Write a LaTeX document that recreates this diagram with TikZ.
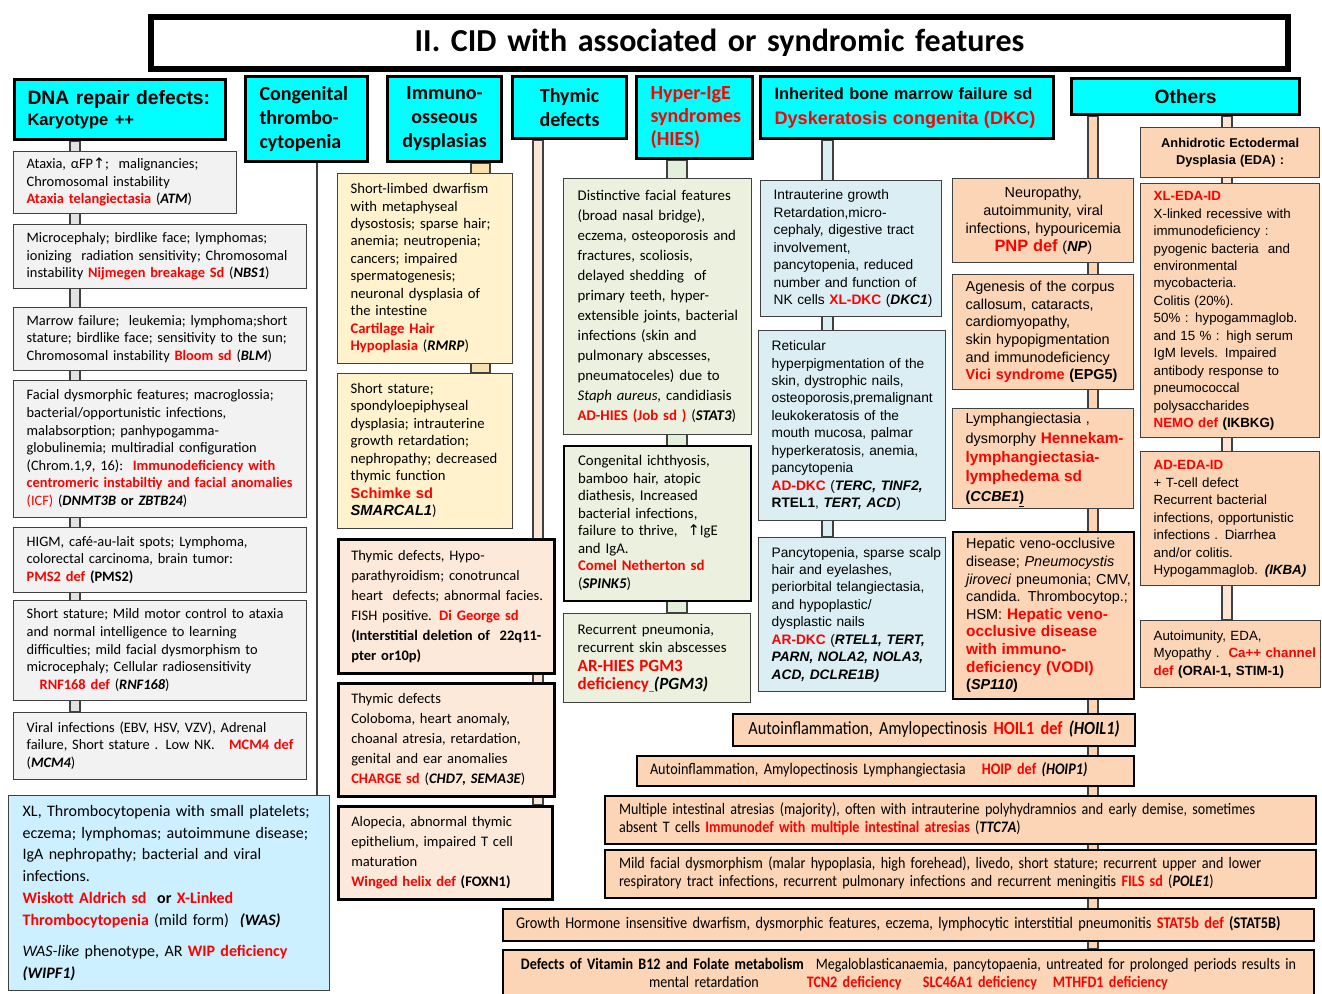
\documentclass[tikz,border=0pt]{standalone}
\usepackage{fontspec}
\setmainfont{Carlito}
\newfontfamily\arialf{Liberation Sans}
\newfontfamily\narrowf[FakeStretch=0.88]{Carlito}
\newfontfamily\symf{DejaVu Sans}
\usetikzlibrary{calc}
\pgfdeclarelayer{background}
\pgfsetlayers{background,main}

\definecolor{hdrcyan}{HTML}{00FFFF}
\definecolor{edgegray}{HTML}{404040}
\definecolor{dnafill}{HTML}{F2F2F2}
\definecolor{dnabarfill}{HTML}{E2E2E2}
\definecolor{wasfill}{HTML}{CCF0FF}
\definecolor{iofill}{HTML}{FFF2CC}
\definecolor{iobarfill}{HTML}{F8E0B0}
\definecolor{thyfill}{HTML}{FDE9D9}
\definecolor{thybarfill}{HTML}{FCE4D6}
\definecolor{hiesfill}{HTML}{EBF1DE}
\definecolor{hiesbarfill}{HTML}{E2EFDA}
\definecolor{dkcfill}{HTML}{DAEEF3}
\definecolor{peach}{HTML}{FBD5B5}
\definecolor{redtxt}{HTML}{FF0000}
\definecolor{ulcolor}{HTML}{C55A11}

\newcommand\rd[1]{\textcolor{redtxt}{\bfseries #1}}
\newcommand\rdb[1]{\textcolor{redtxt}{\bfseries\fontsize{11.5}{13}\selectfont #1}}
\newcommand\rn[1]{\textcolor{redtxt}{#1}}
\newcommand\bi[1]{\textbf{\textit{#1}}}
\newcommand\rowsl[1]{\begin{tabular}{@{}l@{}}#1\end{tabular}}
\newcommand\rowsc[1]{\begin{tabular}{@{}c@{}}#1\end{tabular}}
\newcommand\uparr{{\symf ↑}}

\begin{document}
\begin{tikzpicture}[x=0.75pt,y=-0.75pt,
  geom/.style 2 args={
    /utils/exec={\pgfmathsetlengthmacro\boxw{#1*0.75}%
                 \pgfmathsetlengthmacro\boxh{#2*0.75}%
                 \pgfmathsetlengthmacro\boxtw{(#1-26)*0.75}},
    minimum width/.expanded=\boxw, minimum height/.expanded=\boxh,
    text width/.expanded=\boxtw},
  base/.style={anchor=north west, inner ysep=0pt, inner xsep=9.75pt, align=left},
  titlebox/.style={base, align=center, draw=black, line width=4.5pt, fill=white,
    font=\bfseries\fontsize{24}{29}\selectfont},
  hdr/.style={base, draw=black, line width=2.3pt, fill=hdrcyan},
  hdrcal/.style={hdr, font=\bfseries\fontsize{15}{18}\selectfont},
  dnabox/.style={base, draw=edgegray, line width=1pt, fill=dnafill, font=\fontsize{10.8}{13.2}\selectfont},
  wasbox/.style={base, draw=edgegray, line width=1pt, fill=wasfill, font=\fontsize{12}{16.3}\selectfont},
  iobox/.style={base, draw=edgegray, line width=1pt, fill=iofill, font=\fontsize{11}{13.1}\selectfont},
  thybox/.style={base, draw=black, line width=1.9pt, fill=thyfill, font=\fontsize{10.9}{15}\selectfont},
  hiesbox/.style={base, draw=edgegray, line width=1pt, fill=hiesfill, font=\fontsize{11.1}{15}\selectfont},
  dkcbox/.style={base, draw=edgegray, line width=1pt, fill=dkcfill, font=\arialf\fontsize{10.3}{13.1}\selectfont},
  pnpbox/.style={base, draw=edgegray, line width=1pt, fill=peach, font=\arialf\fontsize{10.8}{13.2}\selectfont},
  edabox/.style={base, draw=edgegray, line width=1pt, fill=peach, font=\arialf\fontsize{10}{13.1}\selectfont},
  wide/.style={base, draw=black, line width=1.5pt, fill=peach, font=\narrowf\fontsize{12}{13.5}\selectfont},
  bar/.style={draw=edgegray, line width=1pt, fill=#1}
]
\useasboundingbox (0,0) rectangle (1322,994);

% title
\node[titlebox, geom={1137}{52}] (title) at (148,14) {II. CID with associated or syndromic features};

% column headers
\node[hdr, geom={211}{60}, font=\arialf\bfseries\fontsize{14.5}{15.75}\selectfont] (dnahdr) at (13,78)
  {DNA repair defects:\\ {\fontsize{12.4}{15.75}\selectfont Karyotype ++}};
\node[hdrcal, geom={120}{85}, inner xsep=10.5pt] (conghdr) at (244,75) {Congenital\\ thrombo-\\ cytopenia};
\node[hdrcal, geom={114}{85}, align=center] (iohdr) at (386,75) {Immuno-\\ osseous\\ dysplasias};
\node[hdrcal, geom={114}{62}, align=center, font=\bfseries\fontsize{15}{17.3}\selectfont] (thyhdr) at (511,75) {Thymic\\ defects};
\node[hdrcal, geom={114}{82}, inner xsep=10.5pt, text=redtxt, font=\bfseries\fontsize{15}{16.9}\selectfont] (hieshdr) at (635,75)
  {Hyper-IgE\\ syndromes\\ (HIES)};
\node[hdr, geom={291}{62}, inner xsep=10.5pt, font=\arialf\bfseries\fontsize{12.3}{18.75}\selectfont] (dkchdr) at (759,75)
  {Inherited bone marrow failure sd\\ {\color{redtxt}\fontsize{13.6}{18.75}\selectfont Dyskeratosis congenita (DKC)}};
\node[hdr, geom={228}{36}, align=center, font=\arialf\bfseries\fontsize{14.4}{17}\selectfont] (othhdr) at (1070,77) {Others};

% DNA repair defects
\node[dnabox, geom={223}{62}] (dna1) at (13,151)
  {\rowsl{Ataxia, αFP\uparr;\ \ malignancies;\\ Chromosomal instability\\ \rd{Ataxia telangiectasia} (\bi{ATM})}};
\node[dnabox, geom={293}{64}] (dna2) at (13,224)
  {\rowsl{Microcephaly; birdlike face; lymphomas;\\ ionizing\ \ radiation sensitivity; Chromosomal\\ instability \rd{Nijmegen breakage Sd} (\bi{NBS1})}};
\node[dnabox, geom={293}{63}] (dna3) at (13,307)
  {\rowsl{Marrow failure;\ \ leukemia; lymphoma;short\\ stature; birdlike face; sensitivity to the sun;\\ Chromosomal instability \rd{Bloom sd} (\bi{BLM})}};
\node[dnabox, geom={293}{137}] (dna4) at (13,380)
  {\rowsl{Facial dysmorphic features; macroglossia;\\ bacterial/opportunistic infections,\\ malabsorption; panhypogamma-\\ globulinemia; multiradial configuration\\ (Chrom.1,9, 16):\ \ \rd{Immunodeficiency with}\\ \rd{centromeric instabiltiy and facial anomalies}\\ \rn{(ICF)} (\bi{DNMT3B} \textbf{or} \bi{ZBTB24})}};
\node[dnabox, geom={293}{65}] (dna5) at (13,527)
  {\rowsl{HIGM, café-au-lait spots; Lymphoma,\\ colorectal carcinoma, brain tumor:\\ \rd{PMS2 def} \textbf{(PMS2)}}};
\node[dnabox, geom={293}{100}] (dna6) at (13,600)
  {\rowsl{Short stature; Mild motor control to ataxia\\ and normal intelligence to learning\\ difficulties; mild facial dysmorphism to\\ microcephaly; Cellular radiosensitivity\\ \hspace*{9.75pt}\rd{RNF168 def} (\bi{RNF168})}};
\node[dnabox, geom={293}{67}] (dna7) at (13,712)
  {\rowsl{Viral infections (EBV, HSV, VZV), Adrenal\\ failure, Short stature . Low NK.\ \ \ \rd{MCM4 def}\\ (\bi{MCM4})}};

% congenital thrombocytopenia
\node[wasbox, geom={319}{195}, inner xsep=10.5pt] (was) at (8,795)
  {\rowsl{XL, Thrombocytopenia with small platelets;\\ eczema; lymphomas; autoimmune disease;\\ IgA nephropathy; bacterial and viral\\ infections.\\ \rd{Wiskott Aldrich sd}\ \ \textbf{or} \rd{X-Linked}\\ \rd{Thrombocytopenia} (mild form)\ \ \bi{(WAS)}\\[7.5pt] \textit{WAS-like} phenotype, AR \rd{WIP deficiency}\\ \bi{(WIPF1)}}};

% immuno-osseous dysplasias
\node[iobox, geom={175}{190}] (io1) at (337,173)
  {\rowsl{Short-limbed dwarfism\\ with metaphyseal\\ dysostosis; sparse hair;\\ anemia; neutropenia;\\ cancers; impaired\\ spermatogenesis;\\ neuronal dysplasia of\\ the intestine\\ \rd{Cartilage Hair}\\ \rd{Hypoplasia} (\bi{RMRP})}};
\node[iobox, geom={175}{155}] (io2) at (337,373)
  {\rowsl{Short stature;\\ spondyloepiphyseal\\ dysplasia; intrauterine\\ growth retardation;\\ nephropathy; decreased\\ thymic function\\ {\arialf\rd{Schimke sd}}\\ {\arialf\bi{SMARCAL1}})}};

% thymic defects
\node[thybox, geom={216}{134}] (thy1) at (337,538)
  {\rowsl{Thymic defects, Hypo-\\ parathyroidism; conotruncal\\ heart\ \ defects; abnormal facies.\\ FISH positive. \rd{Di George sd}\\ \textbf{(Interstitial deletion of\ \ 22q11-}\\ \textbf{pter or10p)}}};
\node[thybox, geom={216}{113}] (thy2) at (337,682)
  {\rowsl{Thymic defects\\ Coloboma, heart anomaly,\\ choanal atresia, retardation,\\ genital and ear anomalies\\ \rd{CHARGE sd} (\bi{CHD7, SEMA3E})}};
\node[thybox, geom={214}{93}] (thy3) at (337,805)
  {\rowsl{Alopecia, abnormal thymic\\ epithelium, impaired T cell\\ maturation\\ \rd{Winged helix def} \textbf{(FOXN1)}}};

% hyper-IgE syndromes
\node[hiesbox, geom={186}{256}, inner xsep=10.5pt] (hies1) at (563,178)
  {\rowsl{Distinctive facial features\\ (broad nasal bridge),\\ eczema, osteoporosis and\\ fractures, scoliosis,\\ delayed shedding\ \ of\\ primary teeth, hyper-\\ extensible joints, bacterial\\ infections (skin and\\ pulmonary abscesses,\\ pneumatoceles) due to\\ \textit{Staph aureus,} candidiasis\\ \rd{AD-HIES (Job sd )} (\bi{STAT3})}};
\node[hiesbox, geom={185}{155}, inner xsep=10.5pt, draw=black, line width=1.6pt, font=\fontsize{11.1}{13.1}\selectfont] (hies2) at (563,445)
  {\rowsl{Congenital ichthyosis,\\ bamboo hair, atopic\\ diathesis, Increased\\ bacterial infections,\\ failure to thrive,\ \ \uparr IgE\\ and IgA.\\ \rd{Comel Netherton sd}\\ (\bi{SPINK5})}};
\node[hiesbox, geom={185}{89}, inner xsep=10.5pt, font=\fontsize{11.1}{13.8}\selectfont] (hies3) at (563,613)
  {\rowsl{Recurrent pneumonia,\\ recurrent skin abscesses\\ {\fontsize{12.8}{15}\selectfont\rd{AR-HIES PGM3}}\\ {\fontsize{12.8}{15}\selectfont\rd{deficiency}\textcolor{ulcolor}{\underline{\ }}\bi{(PGM3)}}}};

% dyskeratosis congenita
\node[dkcbox, geom={181}{136}] (dkc1) at (760,180)
  {\rowsl{Intrauterine growth\\ Retardation,micro-\\ cephaly, digestive tract\\ involvement,\\ pancytopenia, reduced\\ number and function of\\ NK cells \rd{XL-DKC} (\bi{DKC1})}};
\node[dkcbox, geom={187}{190}] (dkc2) at (758,330)
  {\rowsl{Reticular\\ hyperpigmentation of the\\ skin, dystrophic nails,\\ osteoporosis,premalignant\\ leukokeratosis of the\\ mouth mucosa, palmar\\ hyperkeratosis, anemia,\\ pancytopenia\\ \rd{AD-DKC} (\bi{TERC, TINF2,}\\ \textbf{RTEL1}, \bi{TERT, ACD})}};
\node[dkcbox, geom={187}{154}] (dkc3) at (758,537)
  {\rowsl{Pancytopenia, sparse scalp\\ hair and eyelashes,\\ periorbital telangiectasia,\\ and hypoplastic/\\ dysplastic nails\\ \rd{AR-DKC} (\bi{RTEL1, TERT,}\\ \bi{PARN, NOLA2, NOLA3,}\\ \bi{ACD, DCLRE1B)}}};

% others, first column
\node[pnpbox, geom={181}{84}, align=center, font=\arialf\fontsize{10.8}{13.5}\selectfont] (pnp1) at (952,178)
  {\rowsc{Neuropathy,\\ autoimmunity, viral\\ infections, hypouricemia\\ {\textcolor{redtxt}{\bfseries\fontsize{12.3}{14}\selectfont PNP def}} (\bi{NP})}};
\node[pnpbox, geom={181}{115}] (pnp2) at (952,274)
  {\rowsl{Agenesis of the corpus\\ callosum, cataracts,\\ cardiomyopathy,\\ skin hypopigmentation\\ and immunodeficiency\\ \rd{Vici syndrome} \textbf{(EPG5)}}};
\node[pnpbox, geom={181}{100}, font=\arialf\fontsize{10.8}{14.5}\selectfont] (pnp3) at (952,408)
  {\rowsl{Lymphangiectasia ,\\ dysmorphy \rdb{Hennekam-}\\ \rdb{lymphangiectasia-}\\ \rdb{lymphedema sd}\\ \textbf{(\textit{CCBE1}\underline{)}}}};
\node[pnpbox, geom={181}{167}, draw=black, line width=1.8pt] (pnp4) at (952,531)
  {\rowsl{Hepatic veno-occlusive\\ disease; \textit{Pneumocystis}\\ \textit{jiroveci} pneumonia; CMV,\\ candida. Thrombocytop.;\\ HSM: \rdb{Hepatic veno-}\\ \rdb{occlusive disease}\\ \rdb{with immuno-}\\ \rdb{deficiency (VODI)}\\ \textbf{(\textit{SP110})}}};

% others, anhidrotic ectodermal dysplasia
\node[edabox, geom={179}{50}, align=center, font=\arialf\bfseries\fontsize{9.6}{12.8}\selectfont] (eda) at (1140,127)
  {\rowsc{Anhidrotic Ectodermal\\ Dysplasia (EDA) :}};
\node[edabox, geom={179}{254}] (eda1) at (1140,183)
  {\rowsl{\rd{XL-EDA-ID}\\ X-linked recessive with\\ immunodeficiency :\\ pyogenic bacteria\ \ and\\ environmental\\ mycobacteria.\\ Colitis (20\%).\\ 50\% : hypogammaglob.\\ and 15 \% : high serum\\ IgM levels. Impaired\\ antibody response to\\ pneumococcal\\ polysaccharides\\ \rd{NEMO def} \textbf{(IKBKG)}}};
\node[edabox, geom={179}{134}] (eda2) at (1140,451)
  {\rowsl{\rd{AD-EDA-ID}\\ + T-cell defect\\ Recurrent bacterial\\ infections, opportunistic\\ infections . Diarrhea\\ and/or colitis.\\ Hypogammaglob. \bi{(IKBA)}}};
\node[edabox, geom={180}{67}] (eda3) at (1140,620)
  {\rowsl{Autoimunity, EDA,\\ Myopathy .\ \ \rd{Ca++ channel}\\ \rd{def} \textbf{(ORAI-1, STIM-1)}}};

% others, wide rows
\node[wide, geom={402}{32}, align=center, font=\narrowf\fontsize{13.9}{16}\selectfont] (hoil) at (732,713)
  {\rowsc{Autoinflammation, Amylopectinosis \rd{HOIL1 def} \bi{(HOIL1)}}};
\node[wide, geom={497}{30}, font=\narrowf\fontsize{12.1}{14}\selectfont] (hoip) at (636,755)
  {\rowsl{Autoinflammation, Amylopectinosis Lymphangiectasia\hspace{12pt}\rd{HOIP def} \bi{(HOIP1)}}};
\node[wide, geom={709}{48}, inner xsep=10.5pt] (ttc) at (604,795)
  {\rowsl{Multiple intestinal atresias (majority), often with intrauterine polyhydramnios and early demise, sometimes\\ absent T cells \rd{Immunodef with multiple intestinal atresias} (\bi{TTC7A})}};
\node[wide, geom={709}{48}, inner xsep=10.5pt] (fils) at (604,849)
  {\rowsl{Mild facial dysmorphism (malar hypoplasia, high forehead), livedo, short stature; recurrent upper and lower\\ respiratory tract infections, recurrent pulmonary infections and recurrent meningitis \rd{FILS sd} (\bi{POLE1})}};
\node[wide, geom={811}{32}, font=\narrowf\fontsize{12.2}{14}\selectfont] (stat) at (502,908)
  {\rowsl{Growth Hormone insensitive dwarfism, dysmorphic features, eczema, lymphocytic interstitial pneumonitis \rd{STAT5b def} \textbf{(STAT5B)}}};
\node[wide, geom={811}{50}, align=center] (vitb) at (502,949)
  {\rowsc{\textbf{Defects of Vitamin B12 and Folate metabolism}\hspace{9pt}Megaloblasticanaemia, pancytopaenia, untreated for prolonged periods results in\\ mental retardation\hspace{36pt}\rd{TCN2 deficiency}\hspace{16pt}\rd{SLC46A1 deficiency}\hspace{12pt}\rd{MTHFD1 deficiency}}};

% connector bars running behind the boxes
\begin{pgfonlayer}{background}
\fill[white] (0,0) rectangle (1322,994);
\filldraw[bar=dnabarfill] ($(dnahdr.south west)+(57,0)$) rectangle ($(dna7.north west)+(67,0)$);
\filldraw[bar=wasfill] ($(conghdr.south west)+(73,0)$) rectangle ($(was.north west)+(309,0)$);
\filldraw[bar=iobarfill] ($(iohdr.south west)+(85,0)$) rectangle ($(io2.north west)+(153,0)$);
\filldraw[bar=thybarfill] ($(thyhdr.south west)+(22,0)$) rectangle ($(thy3.north west)+(206,0)$);
\filldraw[bar=hiesbarfill] ($(hieshdr.south west)+(32,0)$) rectangle ($(hies3.north west)+(124,0)$);
\filldraw[bar=dkcfill] ($(dkchdr.south west)+(63,0)$) rectangle ($(dkc3.north west)+(75,0)$);
\filldraw[bar=peach] ($(othhdr.south west)+(18,0)$) rectangle ($(vitb.north west)+(596,0)$);
\filldraw[bar=thybarfill] ($(othhdr.south west)+(152,0)$) rectangle ($(eda3.north west)+(92,0)$);
\end{pgfonlayer}
\end{tikzpicture}
\end{document}
